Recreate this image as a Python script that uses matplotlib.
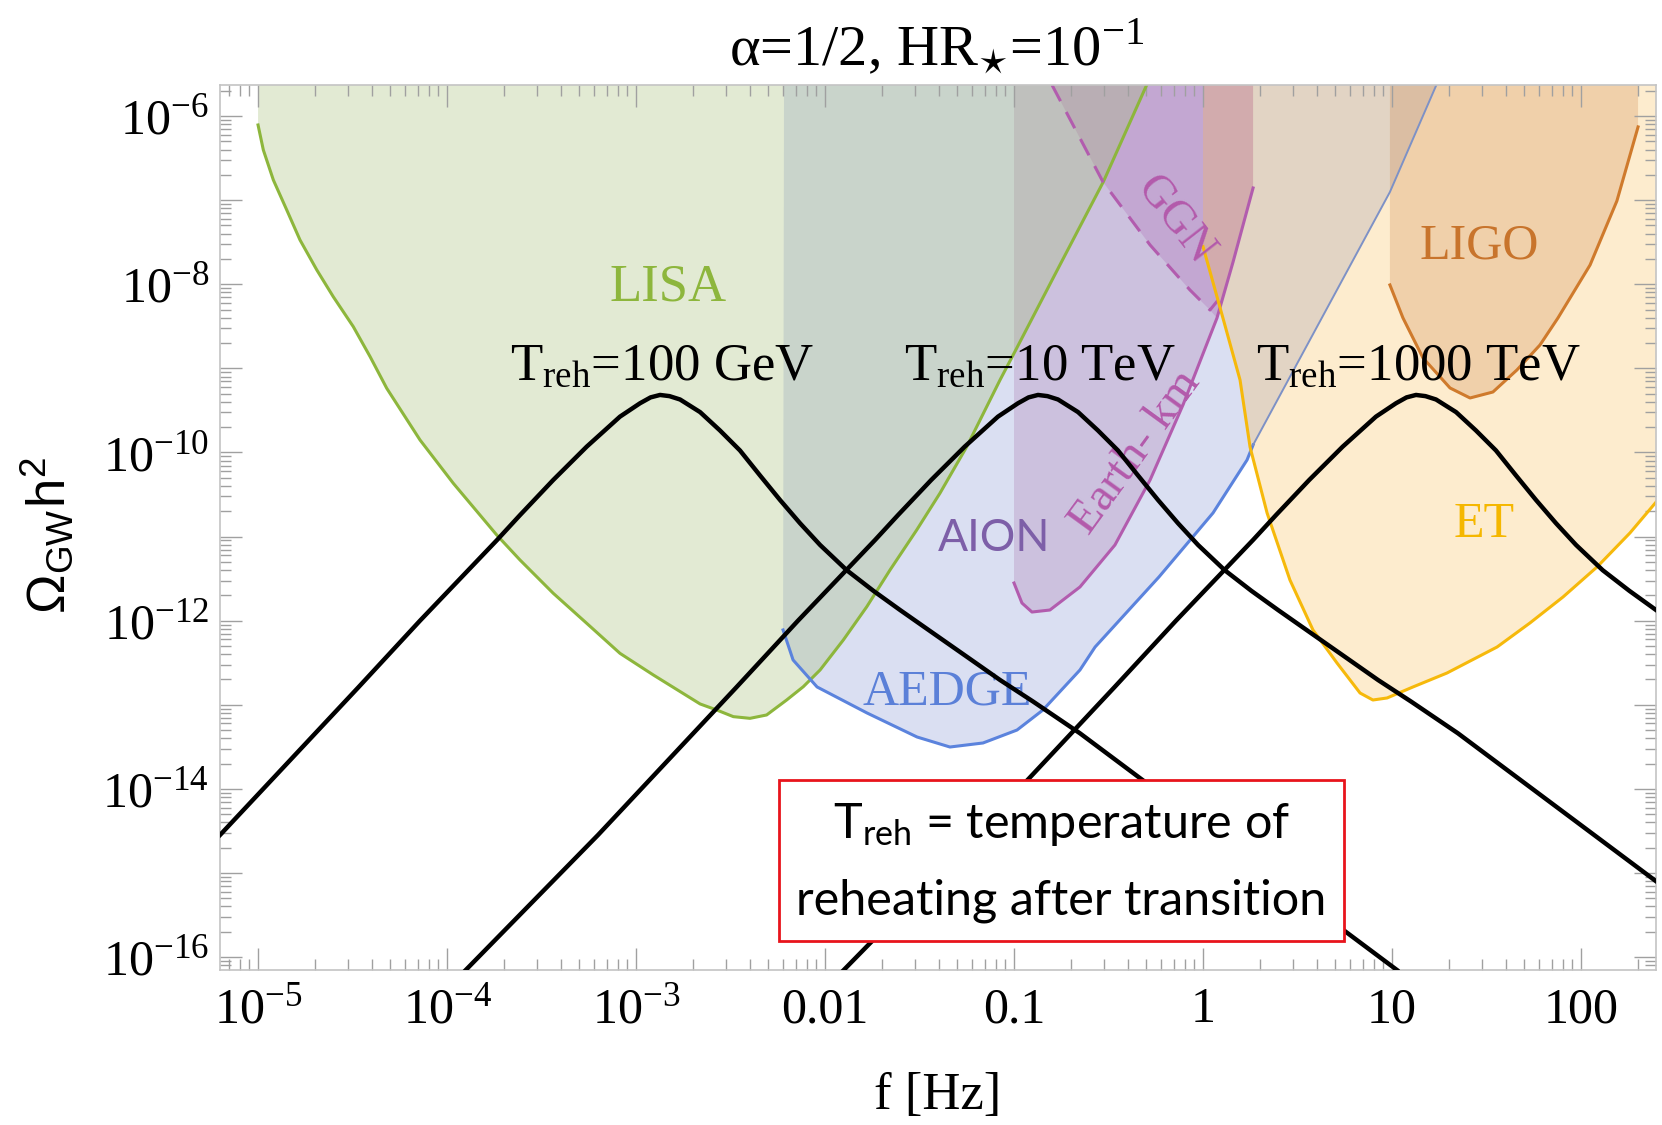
import numpy as np
import matplotlib
matplotlib.use('Agg')
import matplotlib.pyplot as plt
from matplotlib.patches import Rectangle
from matplotlib.ticker import LogLocator, NullFormatter, FixedLocator

plt.rcParams['font.family'] = ['Liberation Serif', 'DejaVu Serif']
plt.rcParams['mathtext.fontset'] = 'stix'

# ---- data (log10 values) ----
# spectrum shape relative to its peak frequency
shape_dlogf = [-3.07, -2.328, -1.596, -1.27, -0.862, -0.741, -0.565, -0.388, -0.212, -0.106, -0.05, 0.0,
               0.05, 0.106, 0.212, 0.317, 0.423, 0.529, 0.635, 0.741, 0.847, 0.988, 1.129, 1.270,
               1.446, 1.623, 1.799, 1.975, 2.222, 3.899]
shape_logomega = [-16.25, -14.548, -12.792, -12.00, -11.040, -10.745, -10.327, -9.931, -9.574, -9.415, -9.345, -9.316,
                  -9.33, -9.37, -9.52, -9.738, -9.976, -10.273, -10.565, -10.842, -11.10, -11.40, -11.645, -11.873,
                  -12.150, -12.428, -12.705, -12.963, -13.339, -16.153]
peak_logf = [-2.873, -0.873, 1.127]
treh_labels = ['100 GeV', '10 TeV', '1000 TeV']

lisa_logf = [-5.0, -5.0, -4.972, -4.919, -4.848, -4.778, -4.689, -4.602, -4.496, -4.407, -4.319,
             -4.143, -3.967, -3.737, -3.614, -3.438, -3.261, -3.085, -2.908,
             -2.661, -2.573, -2.485, -2.397, -2.309, -2.203, -2.115, -2.026,
             -1.903, -1.779, -1.656, -1.515, -1.392, -1.250, -1.074, -0.986,
             -0.757, -0.527, -0.298, -0.298]
lisa_logomega = [-5.5, -6.106, -6.403, -6.760, -7.117, -7.473, -7.830, -8.148, -8.504, -8.861, -9.237,
                 -9.851, -10.366, -10.981, -11.278, -11.674, -12.031, -12.388, -12.646,
                 -12.990, -13.062, -13.141, -13.161, -13.121, -12.943, -12.785, -12.586,
                 -12.229, -11.834, -11.397, -10.922, -10.485, -9.931, -9.138, -8.761,
                 -7.770, -6.780, -5.630, -5.5]

aedge_logf = [-2.217, -2.222, -2.169, -2.042, -1.778, -1.513, -1.339, -1.164, -0.984, -0.847, -0.651,
              -0.571, -0.233, 0.053, 0.233, 0.265, 0.989, 1.26]
aedge_logomega = [-5.5, -12.110, -12.467, -12.788, -13.097, -13.383, -13.502, -13.454, -13.300, -13.062, -12.586,
                  -12.313, -11.480, -10.719, -10.089, -9.911, -6.903, -5.5]

earth_logf = [-1.0, -1.0, -0.958, -0.905, -0.810, -0.651, -0.466, -0.280, -0.106, 0.074, 0.159, 0.265, 0.265]
earth_logomega = [-5.5, -11.552, -11.790, -11.897, -11.873, -11.599, -11.100, -10.327, -9.435, -8.401, -7.735, -6.855, -5.5]

ggn_logf = [-0.799, -0.529, -0.280, -0.069, 0.037, 0.079]
ggn_logomega = [-5.63, -6.784, -7.533, -8.068, -8.306, -8.19]

et_logf = [0.0, 0.0, 0.101, 0.196, 0.249, 0.339, 0.460, 0.582, 0.709, 0.831, 0.899, 0.974, 1.111,
           1.291, 1.556, 1.730, 1.905, 2.085, 2.259, 2.45, 2.45]
et_logomega = [-5.5, -7.551, -8.365, -9.138, -9.935, -10.719, -11.516, -12.111, -12.503, -12.860, -12.943, -12.919, -12.788,
               -12.622, -12.313, -12.027, -11.718, -11.361, -10.957, -10.45, -5.5]

ligo_logf = [0.989, 0.989, 1.058, 1.164, 1.307, 1.413, 1.534, 1.661, 1.783, 1.878, 2.048, 2.190, 2.302, 2.302]
ligo_logomega = [-5.5, -8.008, -8.400, -8.876, -9.233, -9.352, -9.281, -9.019, -8.722, -8.401, -7.771, -7.009, -6.129, -5.5]

x_tick_exp = [-5, -4, -3, -2, -1, 0, 1, 2]
x_tick_labels = [r'$\mathregular{10^{-5}}$', r'$\mathregular{10^{-4}}$', r'$\mathregular{10^{-3}}$',
                 '0.01', '0.1', '1', '10', '100']
y_tick_exp = [-16, -15, -14, -13, -12, -11, -10, -9, -8, -7, -6]
y_tick_labels = [r'$\mathregular{10^{-16}}$', '', r'$\mathregular{10^{-14}}$', '', r'$\mathregular{10^{-12}}$', '',
                 r'$\mathregular{10^{-10}}$', '', r'$\mathregular{10^{-8}}$', '', r'$\mathregular{10^{-6}}$']


def p(v):
    return 10.0 ** np.asarray(v)


fig = plt.figure(figsize=(16.62, 11.25), dpi=100)
ax = fig.add_axes([0.1324, 0.1378, 0.8640, 0.7867])
ax.set_xscale('log')
ax.set_yscale('log')

# sensitivity regions, drawn in layers
ax.fill(p(aedge_logf), p(aedge_logomega), color='#6f83cf', alpha=0.25, lw=0, zorder=1)
ax.fill(p(earth_logf), p(earth_logomega), color='#ac7cb0', alpha=0.30, lw=0, zorder=1.1)
ggn_poly_f = ggn_logf[:-1] + earth_logf[9:]
ggn_poly_o = ggn_logomega[:-1] + earth_logomega[9:]
ax.fill(p(ggn_poly_f), p(ggn_poly_o), color='#a040a3', alpha=0.20, lw=0, zorder=1.2)
ax.fill(p(et_logf), p(et_logomega), color='#fbb94a', alpha=0.27, lw=0, zorder=1.3)
ax.fill(p(ligo_logf), p(ligo_logomega), color='#ca8042', alpha=0.25, lw=0, zorder=1.4)
ax.fill(p(lisa_logf), p(lisa_logomega), color='#a4be74', alpha=0.31, lw=0, zorder=1.5)

# boundaries
ax.plot(p(lisa_logf[1:-1]), p(lisa_logomega[1:-1]), color='#8db63c', lw=2.2, zorder=2)
ax.plot(p(aedge_logf[1:16]), p(aedge_logomega[1:16]), color='#5b83dd', lw=2.2, zorder=2)
ax.plot(p(aedge_logf[15:]), p(aedge_logomega[15:]), color='#7d91c6', lw=1.4, zorder=2)
ax.plot(p(earth_logf[1:-1]), p(earth_logomega[1:-1]), color='#b25cae', lw=2.2, zorder=2)
ax.plot(p(ggn_logf), p(ggn_logomega), color='#b25cae', lw=2.2, ls=(0, (6, 4)), zorder=2)
ax.plot(p(et_logf[1:-1]), p(et_logomega[1:-1]), color='#f6b90b', lw=2.2, zorder=2)
ax.plot(p(ligo_logf[1:-1]), p(ligo_logomega[1:-1]), color='#cf7a2c', lw=2.2, zorder=2)

# spectra
for pk, lab in zip(peak_logf, treh_labels):
    ax.plot(p(np.asarray(shape_dlogf) + pk), p(shape_logomega), color='black', lw=3.2,
            solid_joinstyle='round', zorder=4)
    ax.text(10 ** (pk + 0.01), 10 ** -9.13, r'$\mathregular{T_{reh}}$=' + lab, fontsize=38,
            ha='center', va='baseline', zorder=4.5)

# region labels
ax.text(10 ** -2.831, 10 ** -8.044, 'LISA', color='#8db63c', fontsize=38, ha='center', va='center', zorder=3)
ax.text(10 ** -1.106, 10 ** -11.02, 'AION', color='#7d5fa8', fontsize=32, family=['Lato', 'DejaVu Sans'],
        ha='center', va='center', zorder=3)
ax.text(10 ** -1.354, 10 ** -12.85, 'AEDGE', color='#5b80d8', fontsize=36, ha='center', va='center', zorder=3)
ax.text(10 ** 1.460, 10 ** -7.545, 'LIGO', color='#c8742c', fontsize=36, ha='center', va='center', zorder=3)
ax.text(10 ** 1.487, 10 ** -10.86, 'ET', color='#f5b700', fontsize=36, ha='center', va='center', zorder=3)
ax.text(10 ** -0.153, 10 ** -7.235, 'GGN', color='#b35aab', fontsize=33, rotation=-52,
        ha='center', va='center', rotation_mode='anchor', zorder=3)
ax.text(10 ** -0.355, 10 ** -10.0, 'Earth- km', color='#b35aab', fontsize=34, rotation=54,
        ha='center', va='center', rotation_mode='anchor', zorder=3)

# note box
ax.add_patch(Rectangle((0.389, 0.033), 0.394, 0.182, transform=ax.transAxes, facecolor='white',
                       edgecolor='#e8141c', lw=2, zorder=5))
ax.text(0.586, 0.164, r'$\mathregular{T_{reh}}$ = temperature of', transform=ax.transAxes, fontsize=35,
        family=['Lato', 'DejaVu Sans'], ha='center', va='center', zorder=6)
ax.text(0.586, 0.078, 'reheating after transition', transform=ax.transAxes, fontsize=35,
        family=['Lato', 'DejaVu Sans'], ha='center', va='center', zorder=6)

# axes styling
ax.set_xlim(10 ** -5.201, 10 ** 2.397)
ax.set_ylim(10 ** -16.153, 10 ** -5.63)
ax.xaxis.set_major_locator(FixedLocator([10.0 ** e for e in x_tick_exp]))
ax.set_xticklabels(x_tick_labels)
ax.yaxis.set_major_locator(FixedLocator([10.0 ** e for e in y_tick_exp]))
ax.set_yticklabels(y_tick_labels)
for axis in (ax.xaxis, ax.yaxis):
    axis.set_minor_locator(LogLocator(base=10, subs=np.arange(2, 10), numticks=100))
    axis.set_minor_formatter(NullFormatter())
ax.tick_params(which='both', direction='in', top=True, right=True, color='#a0a0a0', width=1)
ax.tick_params(which='major', length=16)
ax.tick_params(which='minor', length=8)
ax.tick_params(axis='x', labelsize=36, pad=12)
ax.tick_params(axis='y', labelsize=36, pad=8)
for s in ax.spines.values():
    s.set_color('#c4c4c4')
    s.set_linewidth(1.2)

fig.text(0.564, 0.958, r'α=1/2, HR$_{\star}$=10$^{\mathregular{-1}}$', fontsize=42, ha='center', va='center')
fig.text(0.564, 0.026, 'f [Hz]', fontsize=38, ha='center', va='center')
fig.text(0.029, 0.524, r'Ω$_\mathregular{GW}$h$^\mathregular{2}$', fontsize=38, rotation=90,
         family=['Liberation Sans', 'DejaVu Sans'], ha='center', va='center')

fig.savefig('out.png', dpi=100)
